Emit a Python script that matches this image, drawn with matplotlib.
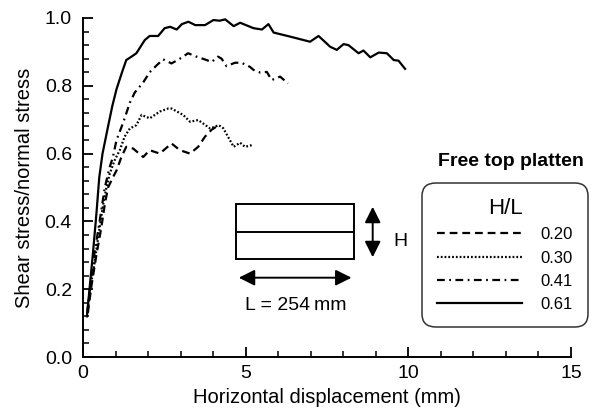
import matplotlib
matplotlib.use("Agg")
import matplotlib.pyplot as plt
from matplotlib.patches import Rectangle, FancyArrowPatch
from matplotlib.ticker import MultipleLocator

plt.rcParams['font.family'] = ['Liberation Sans', 'DejaVu Sans']

# ---- data ----
x_020 = [0.15, 0.26, 0.41, 0.56, 0.67, 0.77, 0.92, 1.03, 1.18, 1.33, 1.54, 1.85, 2.05, 2.36,
         2.72, 2.98, 3.29, 3.54, 3.75, 3.95, 4.17]
y_020 = [0.13, 0.21, 0.30, 0.38, 0.45, 0.50, 0.53, 0.55, 0.59, 0.62, 0.615, 0.59, 0.61, 0.60,
         0.63, 0.61, 0.60, 0.62, 0.65, 0.67, 0.684]

x_030 = [0.14, 0.2, 0.36, 0.46, 0.62, 0.72, 0.82, 0.97, 1.13, 1.28, 1.44, 1.64, 1.8, 2.05,
         2.36, 2.62, 2.72, 3.08, 3.29, 3.54, 3.69, 3.91, 4.17, 4.31, 4.63, 4.83, 4.98, 5.19]
y_030 = [0.13, 0.19, 0.28, 0.35, 0.45, 0.50, 0.54, 0.58, 0.61, 0.65, 0.674, 0.684, 0.714, 0.704,
         0.724, 0.733, 0.733, 0.714, 0.694, 0.699, 0.689, 0.674, 0.684, 0.675, 0.62, 0.632, 0.62, 0.625]

x_041 = [0.13, 0.26, 0.36, 0.51, 0.67, 0.82, 0.92, 1.03, 1.23, 1.44, 1.59, 1.85, 2.05, 2.26,
         2.46, 2.72, 2.98, 3.23, 3.49, 3.8, 3.95, 4.15, 4.26, 4.41, 4.67, 4.87, 5.13, 5.24,
         5.45, 5.65, 5.8, 6.06, 6.3]
y_041 = [0.13, 0.24, 0.31, 0.40, 0.50, 0.56, 0.59, 0.64, 0.69, 0.75, 0.78, 0.81, 0.84, 0.86,
         0.878, 0.866, 0.88, 0.896, 0.886, 0.876, 0.87, 0.886, 0.88, 0.858, 0.868, 0.868, 0.856,
         0.847, 0.839, 0.841, 0.817, 0.827, 0.807]

x_061 = [0.12, 0.2, 0.3, 0.41, 0.5, 0.6, 0.77, 0.9, 1.03, 1.2, 1.33, 1.49, 1.64, 1.9, 2.05,
         2.31, 2.51, 2.68, 2.88, 3.04, 3.24, 3.45, 3.75, 4.01, 4.2, 4.37, 4.63, 4.83, 5.24, 5.5,
         5.7, 5.86, 6.37, 6.98, 7.24, 7.6, 7.8, 8.01, 8.16, 8.47, 8.62, 8.83, 9.09, 9.34, 9.55,
         9.7, 9.9]
y_061 = [0.12, 0.2, 0.3, 0.42, 0.53, 0.6, 0.68, 0.74, 0.79, 0.84, 0.876, 0.886, 0.896, 0.935,
         0.947, 0.947, 0.97, 0.974, 0.966, 0.982, 0.989, 0.979, 0.979, 0.994, 0.992, 0.996,
         0.976, 0.986, 0.97, 0.966, 0.982, 0.957, 0.945, 0.93, 0.947, 0.915, 0.906, 0.923,
         0.92, 0.896, 0.904, 0.884, 0.898, 0.896, 0.876, 0.874, 0.85]

hl_labels = ["0.20", "0.30", "0.41", "0.61"]
x_ticks = [0, 5, 10, 15]
y_ticks = [0.0, 0.2, 0.4, 0.6, 0.8, 1.0]

# ---- figure ----
fig = plt.figure(figsize=(6.11, 4.11), dpi=100)
ax = fig.add_axes([83/611, 1-357/411, (571-83)/611, (357-18)/411])

lw = 1.6
styles = [(0, (3.5, 2.2)), (0, (0.8, 0.9)), (0, (3.5, 2.0, 0.8, 2.0)), '-']
series = [(x_020, y_020), (x_030, y_030), (x_041, y_041), (x_061, y_061)]
handles = []
for (xs, ys), ls, lab in zip(series, styles, hl_labels):
    h, = ax.plot(xs, ys, color='black', lw=lw, linestyle=ls, label=lab)
    handles.append(h)

ax.set_xlim(0, 15)
ax.set_ylim(0, 1.0)
ax.set_xticks(x_ticks)
ax.set_yticks(y_ticks)
ax.set_yticklabels([f"{v:.1f}" for v in y_ticks])
ax.xaxis.set_minor_locator(MultipleLocator(1))
ax.yaxis.set_minor_locator(MultipleLocator(0.04))
for s in ['top', 'right']:
    ax.spines[s].set_visible(False)
for s in ['left', 'bottom']:
    ax.spines[s].set_linewidth(1.4)
ax.tick_params(which='major', direction='in', length=7, width=1.3, labelsize=14, pad=6)
ax.tick_params(which='minor', direction='in', length=4, width=1.1)
ax.tick_params(axis='y', which='major', pad=8)

ax.set_xlabel("Horizontal displacement (mm)", fontsize=14.5, labelpad=4)
ax.set_ylabel("Shear stress/normal stress", fontsize=14.5, labelpad=8)

# annotation
fig.text(511/611, 1-162/411, "Free top platten", fontsize=14, fontweight='bold',
         ha='center', va='center')

# inset sketch (figure pixel coords -> figure fraction)
def fx(px): return px/611
def fy(py): return 1-py/411
rect = Rectangle((fx(236), fy(259.3)), fx(354.3)-fx(236), fy(204)-fy(259.3),
                 transform=fig.transFigure, fill=False, lw=1.4, edgecolor='black')
fig.add_artist(rect)
fig.add_artist(plt.Line2D([fx(236), fx(354.3)], [fy(231.7), fy(231.7)],
                          transform=fig.transFigure, color='black', lw=1.4))
fig.add_artist(FancyArrowPatch((fx(236), fy(277.7)), (fx(354.3), fy(277.7)),
                               transform=fig.transFigure, arrowstyle='<|-|>,head_length=6,head_width=3',
                               mutation_scale=1.6, color='black', lw=1.4))
fig.add_artist(FancyArrowPatch((fx(372.7), fy(204)), (fx(372.7), fy(260)),
                               transform=fig.transFigure, arrowstyle='<|-|>,head_length=6,head_width=3',
                               mutation_scale=1.6, color='black', lw=1.4))
fig.text(fx(400), fy(242), "H", fontsize=14, ha='center', va='center')
fig.text(fx(296), fy(305), "L = 254\u2009mm", fontsize=14, ha='center', va='center')

leg = ax.legend(handles=handles, labels=hl_labels, title="H/L", fontsize=12,
                title_fontsize=16, loc='upper right',
                bbox_to_anchor=(588/611, 1-183/411), bbox_transform=fig.transFigure,
                borderaxespad=0, handlelength=5.1, handletextpad=1.1, labelspacing=0.5,
                borderpad=0.9, fancybox=True, frameon=True, framealpha=1,
                edgecolor='#333333')
leg.get_frame().set_linewidth(1.1)
leg.get_frame().set_boxstyle('round', pad=0.0, rounding_size=0.8)
leg._legend_box.align = "center"

fig.savefig("out.png", dpi=100)
